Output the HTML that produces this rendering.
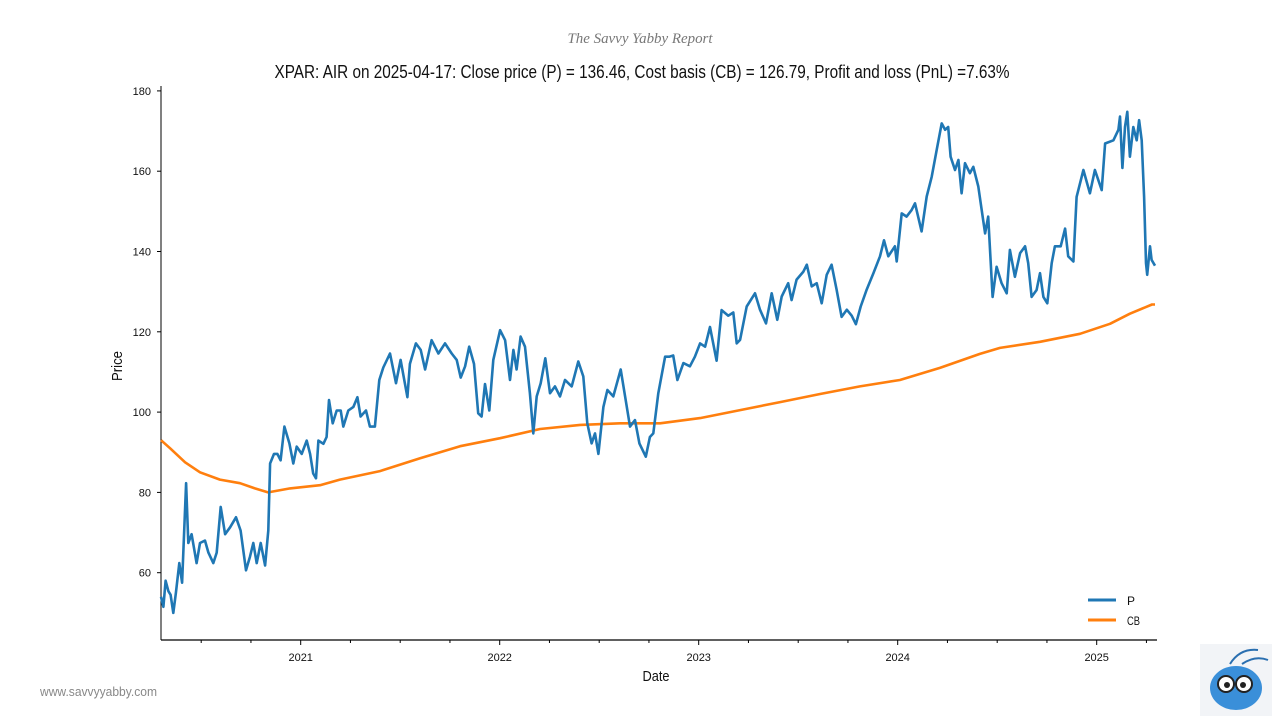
<!DOCTYPE html>
<html><head><meta charset="utf-8"><style>
body{margin:0;background:#fff;}
svg{display:block;font-family:"Liberation Sans",sans-serif;}
</style></head><body>
<svg id="chart" width="1280" height="720" viewBox="0 0 1280 720" xmlns="http://www.w3.org/2000/svg">
<text x="640" y="43" text-anchor="middle" font-family="Liberation Serif, serif" font-style="italic" font-size="15" fill="#777" textLength="145" lengthAdjust="spacingAndGlyphs">The Savvy Yabby Report</text>
<text x="642" y="78" text-anchor="middle" font-size="18" fill="#111" textLength="735" lengthAdjust="spacingAndGlyphs">XPAR: AIR on 2025-04-17: Close price (P) = 136.46, Cost basis (CB) = 126.79, Profit and loss (PnL) =7.63%</text>
<g id="axes"></g>
<g id="series"></g>
<text transform="translate(122,366) rotate(-90)" text-anchor="middle" font-size="15" fill="#111" textLength="30" lengthAdjust="spacingAndGlyphs">Price</text>
<text x="656" y="681" text-anchor="middle" font-size="15" fill="#111" textLength="27" lengthAdjust="spacingAndGlyphs">Date</text>
<g>
<line x1="1088" y1="600" x2="1116" y2="600" stroke="#1f77b4" stroke-width="3"/>
<text x="1127" y="605" font-size="12" fill="#111">P</text>
<line x1="1088" y1="620" x2="1116" y2="620" stroke="#ff7f0e" stroke-width="3"/>
<text x="1127" y="625" font-size="12" fill="#111" textLength="13" lengthAdjust="spacingAndGlyphs">CB</text>
</g>
<text x="40" y="696" font-size="13" fill="#888" textLength="117" lengthAdjust="spacingAndGlyphs">www.savvyyabby.com</text>
<g>
<rect x="1200" y="644" width="72" height="72" fill="#f2f4f7"/>
<ellipse cx="1236" cy="688" rx="26" ry="22" fill="#3a8fd9"/>
<circle cx="1226" cy="684" r="8" fill="#fff" stroke="#222" stroke-width="2"/>
<circle cx="1244" cy="684" r="8" fill="#fff" stroke="#222" stroke-width="2"/>
<circle cx="1227" cy="685" r="3" fill="#222"/><circle cx="1243" cy="685" r="3" fill="#222"/>
<path d="M1230 664 Q1240 648 1258 650 M1242 664 Q1255 655 1268 660" stroke="#2a6fb0" stroke-width="2" fill="none"/>
</g>
</svg>
<script>
const pDates=[2020.298,2020.310,2020.321,2020.335,2020.346,2020.360,2020.373,2020.390,2020.404,2020.424,2020.435,2020.452,2020.477,2020.494,2020.519,2020.536,2020.561,2020.578,2020.598,2020.620,2020.645,2020.675,2020.698,2020.725,2020.745,2020.762,2020.779,2020.799,2020.821,2020.837,2020.846,2020.866,2020.883,2020.899,2020.918,2020.943,2020.963,2020.980,2021.005,2021.030,2021.047,2021.063,2021.077,2021.089,2021.114,2021.130,2021.142,2021.161,2021.181,2021.201,2021.214,2021.239,2021.265,2021.285,2021.301,2021.328,2021.348,2021.373,2021.395,2021.415,2021.449,2021.479,2021.502,2021.536,2021.549,2021.579,2021.603,2021.625,2021.658,2021.692,2021.725,2021.759,2021.784,2021.804,2021.826,2021.847,2021.871,2021.892,2021.909,2021.926,2021.948,2021.968,2022.002,2022.027,2022.052,2022.069,2022.085,2022.105,2022.127,2022.152,2022.169,2022.186,2022.206,2022.229,2022.253,2022.278,2022.303,2022.328,2022.362,2022.395,2022.420,2022.440,2022.462,2022.479,2022.496,2022.521,2022.541,2022.571,2022.608,2022.630,2022.655,2022.680,2022.702,2022.734,2022.755,2022.772,2022.797,2022.831,2022.852,2022.872,2022.893,2022.923,2022.956,2022.981,2023.007,2023.032,2023.057,2023.090,2023.115,2023.149,2023.174,2023.191,2023.208,2023.241,2023.283,2023.308,2023.338,2023.367,2023.395,2023.417,2023.450,2023.467,2023.492,2023.526,2023.543,2023.568,2023.593,2023.618,2023.643,2023.668,2023.693,2023.718,2023.744,2023.769,2023.790,2023.814,2023.844,2023.878,2023.911,2023.931,2023.953,2023.986,2023.995,2024.020,2024.045,2024.070,2024.087,2024.120,2024.146,2024.171,2024.196,2024.221,2024.238,2024.254,2024.266,2024.288,2024.305,2024.321,2024.338,2024.363,2024.380,2024.405,2024.422,2024.439,2024.455,2024.477,2024.497,2024.522,2024.548,2024.564,2024.589,2024.615,2024.640,2024.656,2024.673,2024.698,2024.715,2024.732,2024.752,2024.774,2024.790,2024.819,2024.841,2024.857,2024.883,2024.899,2024.933,2024.966,2024.991,2025.025,2025.042,2025.084,2025.109,2025.117,2025.129,2025.142,2025.154,2025.167,2025.184,2025.201,2025.213,2025.226,2025.238,2025.248,2025.254,2025.268,2025.276,2025.293];
const pValues=[54,51.5,58,55.4,54.5,50,55,62.4,57.5,82.3,67.4,69.6,62.4,67.4,68,65,62.4,65,76.4,69.6,71.3,73.8,70.5,60.6,64,67.4,62.4,67.4,61.8,70.5,87.2,89.6,89.6,88,96.4,92.2,87.2,91.4,89.6,92.9,89.6,84.7,83.5,92.9,92.1,93.8,103,97.2,100.4,100.4,96.4,100.4,101.3,103.7,98.9,100.4,96.4,96.4,108,111.1,114.6,107.2,113,103.7,112,117.1,115.5,110.6,117.9,114.6,117.1,114.6,113,108.6,111.4,116.3,112,99.7,98.9,107,100.4,113,120.4,117.9,108,115.5,110.6,118.8,116.3,104.7,94.7,103.9,107.2,113.4,104.7,106.4,103.9,108,106.4,112.6,108.9,97.2,92.2,94.7,89.6,101.3,105.5,103.9,110.6,103.9,96.4,98,92.2,88.9,93.8,94.7,104.7,113.8,113.8,114.1,108,112.2,111.4,113.8,117.1,116.3,121.2,112.8,125.4,124,124.8,117.1,118,126.3,129.6,125.5,122.1,129.6,123,128.8,132.1,127.9,133,135,136.7,131.3,132.1,127.1,134.2,136.7,130.5,123.7,125.5,124,121.9,126.3,130.5,134.6,138.8,142.8,138.8,141.3,137.5,149.5,148.7,150.3,152,145,153.7,158.6,165.3,171.9,170.3,171,163.6,160.3,162.8,154.5,162,159.5,161.1,156.2,150.3,144.5,148.7,128.7,136.2,132.1,129.6,140.4,133.7,139.6,141.3,137.1,128.7,130.4,134.6,128.7,127.1,137.1,141.3,141.3,145.7,138.8,137.5,153.6,160.3,154.5,160.3,155.3,166.9,167.7,170.3,173.6,160.8,171,174.8,163.6,171,167.7,172.7,167.7,153.6,137.1,134.2,141.3,137.9,136.46];
const cbDates=[2020.298,2020.343,2020.419,2020.494,2020.594,2020.695,2020.770,2020.836,2020.946,2021.097,2021.197,2021.398,2021.600,2021.801,2022.002,2022.203,2022.404,2022.605,2022.806,2023.007,2023.208,2023.409,2023.610,2023.810,2024.011,2024.212,2024.413,2024.514,2024.715,2024.916,2025.067,2025.167,2025.278,2025.293];
const cbValues=[93,91,87.5,85,83.2,82.3,81,80,81,81.8,83.2,85.3,88.5,91.5,93.5,95.8,96.8,97.2,97.2,98.5,100.5,102.5,104.5,106.4,108,111,114.5,116,117.5,119.5,122,124.5,126.8,126.79];
const yTicks=[60,80,100,120,140,160,180];
const xTickYears=[2021,2022,2023,2024,2025];

const NS="http://www.w3.org/2000/svg";
const X0=161,X1=1155,T0=2020.298,T1=2025.293;
const Y0=640,YT=90;
function xs(t){return X0+(t-T0)/(T1-T0)*(X1-X0);}
function ys(v){return 572.7-(v-60)*4.015;}
function mk(tag,attrs,parent){const e=document.createElementNS(NS,tag);for(const k in attrs)e.setAttribute(k,attrs[k]);parent.appendChild(e);return e;}
const axes=document.getElementById('axes');
const ya=mk('line',{x1:X0,y1:86,x2:X0,y2:Y0,stroke:'#000','stroke-width':1},axes);


const xa=mk('line',{x1:X0,y1:Y0,x2:X0+996,y2:Y0,stroke:'#000','stroke-width':1.2},axes);


yTicks.forEach(v=>{
  const y=ys(v);
  mk('line',{x1:X0-4,y1:y,x2:X0,y2:y,stroke:'#000'},axes);
  const t=mk('text',{x:X0-10,y:y+4,'text-anchor':'end','font-size':11,fill:'#111'},axes);
  t.textContent=v;
  
  
});
for(let yr=2020;yr<=2025;yr++){for(let q=0;q<4;q++){const t=yr+q/4;if(t<T0||t>T1)continue;const x=xs(t);
  mk('line',{x1:x,y1:Y0,x2:x,y2:Y0+(q===0?5:3),stroke:'#000'},axes);}}
xTickYears.forEach(yr=>{
  const t=mk('text',{x:xs(yr),y:Y0+21,'text-anchor':'middle','font-size':11,fill:'#111'},axes);
  t.textContent=yr;
  
  
});
const ser=document.getElementById('series');
function line(ds,vs,col,name){
  const d=ds.map((t,i)=>(i?'L':'M')+xs(t).toFixed(1)+' '+ys(vs[i]).toFixed(1)).join(' ');
  const p=mk('path',{d:d,fill:'none',stroke:col,'stroke-width':2.6,'stroke-linejoin':'round'},ser);
  
  
}
line(cbDates,cbValues,'#ff7f0e','cost-basis-line');
line(pDates,pValues,'#1f77b4','price-line');
</script>
</body></html>
